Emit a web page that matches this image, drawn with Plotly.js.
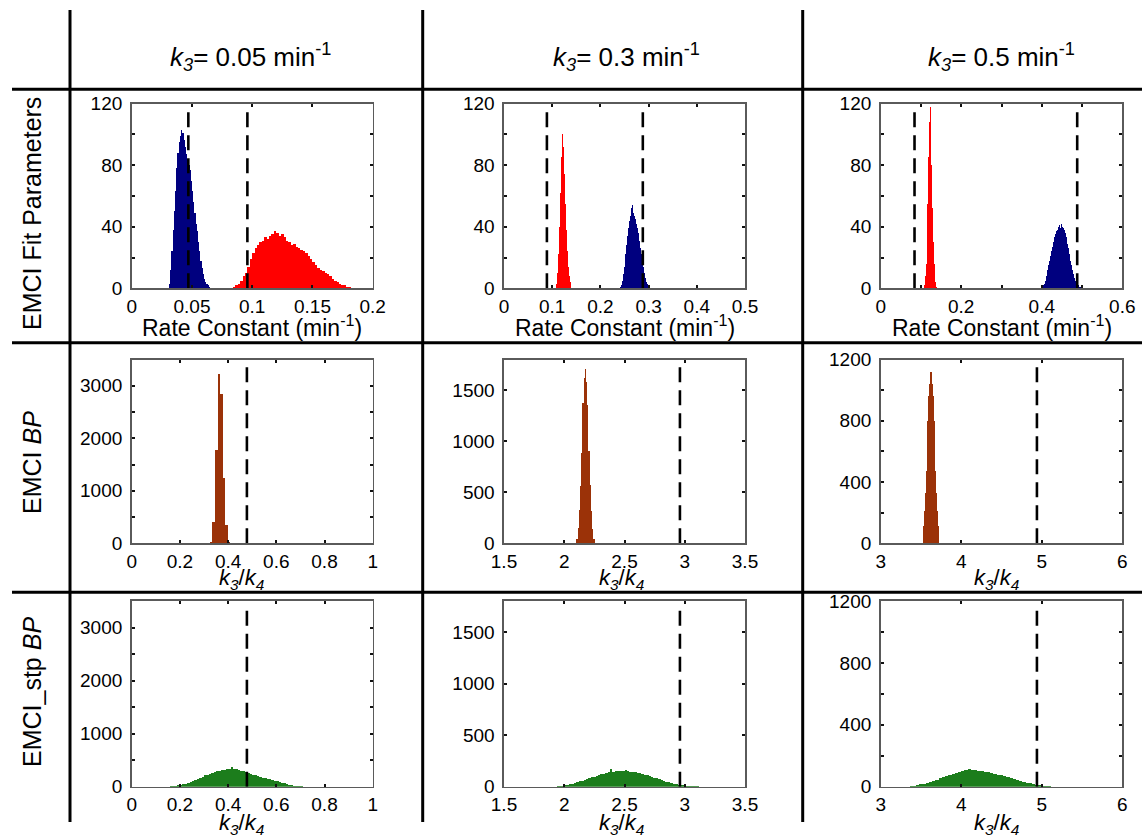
<!DOCTYPE html>
<html>
<head>
<meta charset="utf-8">
<script src="https://cdn.plot.ly/plotly-3.0.1.min.js"></script>
<style>html,body{margin:0;padding:0;background:#fff;}#chart{width:1142px;height:840px;}</style>
</head>
<body>
<div id="chart"></div>
<script>
// ---------------- DATA ----------------
const colHeaders = ["0.05", "0.3", "0.5"];
const rowLabels = ["EMCI Fit Parameters", "EMCI <i>BP</i>", "EMCI_stp <i>BP</i>"];

// Row 1, col 1 (k3 = 0.05)
const r1c1BlueStart = 0.031, r1c1BlueWidth = 0.001;
const r1c1BlueCounts = [3,12,24,38,50,63,78,88,95,99,103,101,96,92,87,84,80,77,70,63,56,49,42,37,30,24,18,13,9,6,4,3,2,1];
const r1c1RedStart = 0.084, r1c1RedWidth = 0.002;
const r1c1RedCounts = [1,2,3,5,8,10,14,19,23,26,28,30,31,33,32,34,35,37,36,34,35,33,31,30,28,29,27,26,25,24,23,21,19,17,15,13,12,11,10,9,8,6,5,4,3,2,2,1,1];
const r1c1Lines = [0.047, 0.096];

// Row 1, col 2 (k3 = 0.3)
const r1c2RedStart = 0.108, r1c2RedWidth = 0.002;
const r1c2RedCounts = [3,10,22,40,62,85,100,92,74,55,38,24,14,8,4,2];
const r1c2BlueStart = 0.240, r1c2BlueWidth = 0.002;
const r1c2BlueCounts = [1,2,5,9,14,18,22,28,34,39,44,47,52,54,49,47,45,42,39,36,31,26,22,18,14,10,7,4,3,2,1];
const r1c2Lines = [0.089, 0.288];

// Row 1, col 3 (k3 = 0.5)
const r1c3RedStart = 0.108, r1c3RedWidth = 0.002;
const r1c3RedCounts = [2,8,16,30,55,85,108,118,105,80,52,30,16,8,4,1];
const r1c3BlueStart = 0.3975, r1c3BlueWidth = 0.0025;
const r1c3BlueCounts = [1,1,2,3,5,8,12,15,18,21,24,27,30,33,35,37,38,40,41,39,42,40,39,38,36,33,29,26,22,18,15,12,9,7,5,4,3,2,1,1];
const r1c3Lines = [0.084, 0.488];

// Row 2: EMCI BP (k3/k4)
const r2c1Start = 0.3245, r2c1Width = 0.0105;
const r2c1Counts = [30,410,1770,3220,2840,1250,340,30];
const r2c1Line = 0.478;
const r2c2Start = 2.101, r2c2Width = 0.01;
const r2c2Counts = [40,150,330,560,880,1370,1620,1710,1580,1350,900,570,320,140,40];
const r2c2Line = 2.96;
const r2c3Start = 3.52, r2c3Width = 0.01;
const r2c3Counts = [35,110,210,330,470,640,800,960,1040,1120,1190,1120,1040,960,800,640,470,330,210,110,35];
const r2c3Line = 4.94;

// Row 3: EMCI_stp BP (k3/k4)
const r3c1Start = 0.15, r3c1Width = 0.01;
const r3c1Counts = [3,6,10,16,24,34,46,60,76,94,112,132,152,172,192,212,230,248,262,276,288,300,310,318,326,332,362,336,330,320,305,290,270,255,240,226,212,198,184,170,158,146,136,124,112,100,88,76,64,52,40,30,21,14,8,4,1];
const r3c1Line = 0.478;
const r3c2Start = 1.94, r3c2Width = 0.02;
const r3c2Counts = [2,5,9,14,19,25,31,37,44,51,58,66,74,82,90,98,106,113,120,126,132,138,176,146,148,150,152,150,166,148,146,143,139,135,130,124,118,111,104,96,88,80,72,64,56,49,42,36,30,25,20,16,13,10,8,6,4,3,2,1];
const r3c2Line = 2.96;
const r3c3Start = 3.32, r3c3Width = 0.04;
const r3c3Counts = [1,3,6,10,15,20,26,32,39,46,54,61,69,76,83,89,95,101,106,112,108,110,103,100,96,92,87,82,78,73,67,61,55,49,43,38,32,26,21,16,12,8,5,3,2,1,1];
const r3c3Line = 4.94;

// ---------------- STYLE / LAYOUT ----------------
const W = 1142, H = 840;
const FONT = 'Liberation Sans, Arial, Helvetica, sans-serif';
const BLUE = '#00007f', RED = '#ff0000', BROWN = '#9b3208', GREEN = '#1c7d1c';

const colPx = [[131.7, 372.7], [504, 745], [880.7, 1122.3]];
const rowPx = [[103.5, 288.3], [359.5, 543.3], [601, 786.7]];

function px2x(p) { return p / W; }
function px2y(p) { return 1 - p / H; }

function centers(start, width, counts) {
  return counts.map((_, i) => start + width * (i + 0.5));
}

const traces = [];
function hist(ax, start, width, counts, color) {
  traces.push({
    type: 'bar', xaxis: 'x' + ax, yaxis: 'y' + ax,
    x: centers(start, width, counts), y: counts, width: width,
    marker: { color: color, line: { width: 0 } },
    hoverinfo: 'x+y', showlegend: false
  });
}
function vline(ax, v, top) {
  traces.push({
    type: 'scatter', mode: 'lines', xaxis: 'x' + ax, yaxis: 'y' + ax,
    x: [v, v], y: [0, top],
    line: { color: '#000', width: 2.6, dash: '15px,8px' },
    hoverinfo: 'skip', showlegend: false
  });
}

// panel index: ax = row*3 + col + 1
hist(1, r1c1BlueStart, r1c1BlueWidth, r1c1BlueCounts, BLUE);
hist(1, r1c1RedStart, r1c1RedWidth, r1c1RedCounts, RED);
r1c1Lines.forEach(v => vline(1, v, 117));
hist(2, r1c2RedStart, r1c2RedWidth, r1c2RedCounts, RED);
hist(2, r1c2BlueStart, r1c2BlueWidth, r1c2BlueCounts, BLUE);
r1c2Lines.forEach(v => vline(2, v, 116));
hist(3, r1c3RedStart, r1c3RedWidth, r1c3RedCounts, RED);
hist(3, r1c3BlueStart, r1c3BlueWidth, r1c3BlueCounts, BLUE);
r1c3Lines.forEach(v => vline(3, v, 116));

hist(4, r2c1Start, r2c1Width, r2c1Counts, BROWN); vline(4, r2c1Line, 3400);
hist(5, r2c2Start, r2c2Width, r2c2Counts, BROWN); vline(5, r2c2Line, 1770);
hist(6, r2c3Start, r2c3Width, r2c3Counts, BROWN); vline(6, r2c3Line, 1170);

hist(7, r3c1Start, r3c1Width, r3c1Counts, GREEN); vline(7, r3c1Line, 3400);
hist(8, r3c2Start, r3c2Width, r3c2Counts, GREEN); vline(8, r3c2Line, 1720);
hist(9, r3c3Start, r3c3Width, r3c3Counts, GREEN); vline(9, r3c3Line, 1150);

const xSpecs = [
  { range: [0, 0.2], dtick: 0.05 }, { range: [0, 0.5], dtick: 0.1 }, { range: [0, 0.6], dtick: 0.2, minor: 0.1 },
  { range: [0, 1], dtick: 0.2 }, { range: [1.5, 3.5], dtick: 0.5 }, { range: [3, 6], dtick: 1 },
  { range: [0, 1], dtick: 0.2 }, { range: [1.5, 3.5], dtick: 0.5 }, { range: [3, 6], dtick: 1 }
];
const ySpecs = [
  { range: [0, 120], dtick: 40, minor: 20 }, { range: [0, 120], dtick: 40, minor: 20 }, { range: [0, 120], dtick: 40, minor: 20 },
  { range: [0, 3500], dtick: 1000, minor: 500 }, { range: [0, 1800], dtick: 500 }, { range: [0, 1200], dtick: 400, minor: 200 },
  { range: [0, 3500], dtick: 1000, minor: 500 }, { range: [0, 1800], dtick: 500 }, { range: [0, 1200], dtick: 400, minor: 200 }
];

const layout = {
  width: W, height: H,
  margin: { l: 0, r: 0, t: 0, b: 0 },
  paper_bgcolor: '#fff', plot_bgcolor: '#fff',
  barmode: 'overlay', bargap: 0,
  font: { family: FONT, size: 19, color: '#000' },
  showlegend: false,
  shapes: [], annotations: []
};

function axisBase(spec) {
  const a = {
    range: spec.range, dtick: spec.dtick, tick0: spec.range[0],
    showgrid: false, zeroline: false,
    showline: true, linecolor: '#5a5a5a', linewidth: 1.6, mirror: 'ticks',
    ticks: 'inside', ticklen: 3, tickwidth: 2, tickcolor: '#111',
    tickfont: { family: FONT, size: 19, color: '#000' },
    fixedrange: true
  };
  if (spec.minor) a.minor = { dtick: spec.minor, ticks: 'inside', ticklen: 3, tickwidth: 2, tickcolor: '#111', showgrid: false };
  return a;
}

for (let r = 0; r < 3; r++) {
  for (let c = 0; c < 3; c++) {
    const i = r * 3 + c + 1;
    const xa = axisBase(xSpecs[i - 1]);
    xa.domain = [px2x(colPx[c][0]), px2x(colPx[c][1])];
    xa.anchor = 'y' + i;
    xa.ticklabelstandoff = 0;
    const ya = axisBase(ySpecs[i - 1]);
    ya.domain = [px2y(rowPx[r][1]), px2y(rowPx[r][0])];
    ya.anchor = 'x' + i;
    ya.ticklabelstandoff = 4;
    layout['xaxis' + (i === 1 ? '' : i)] = xa;
    layout['yaxis' + (i === 1 ? '' : i)] = ya;
  }
}

// table lines
const lineStyle = { color: '#000', width: 3 };
[70, 422.7, 802.7].forEach(x => layout.shapes.push({
  type: 'line', xref: 'paper', yref: 'paper', x0: px2x(x), x1: px2x(x), y0: px2y(10), y1: px2y(822), line: lineStyle
}));
[89.3, 342.7, 592.3].forEach(y => layout.shapes.push({
  type: 'line', xref: 'paper', yref: 'paper', x0: px2x(12), x1: 1, y0: px2y(y), y1: px2y(y), line: lineStyle
}));

// column headers
const headerX = [250, 626.7, 1001.7];
colHeaders.forEach((v, c) => layout.annotations.push({
  xref: 'paper', yref: 'paper', x: px2x(headerX[c]), y: px2y(57), xanchor: 'center', yanchor: 'middle',
  text: '<i>k</i><sub><i>3</i></sub>= ' + v + ' min<sup>-1</sup>', showarrow: false,
  font: { family: FONT, size: 26, color: '#000' }
}));

// row labels
const rowLabelY = [214, 463, 692];
rowLabels.forEach((t, r) => layout.annotations.push({
  xref: 'paper', yref: 'paper', x: px2x(32), y: px2y(rowLabelY[r]), xanchor: 'center', yanchor: 'middle',
  text: t, textangle: -90, showarrow: false,
  font: { family: FONT, size: 25, color: '#000' }
}));

// axis titles
const rateTitleX = [252.2, 624.5, 1001.5];
rateTitleX.forEach(x => layout.annotations.push({
  xref: 'paper', yref: 'paper', x: px2x(x), y: px2y(326), xanchor: 'center', yanchor: 'middle',
  text: 'Rate Constant (min<sup>-1</sup>)', showarrow: false,
  font: { family: FONT, size: 23, color: '#000' }
}));
const ratioTitleX = [241, 621, 996];
[579, 824].forEach(y => ratioTitleX.forEach(x => layout.annotations.push({
  xref: 'paper', yref: 'paper', x: px2x(x), y: px2y(y), xanchor: 'center', yanchor: 'middle',
  text: '<i>k</i><sub><i>3</i></sub>/<i>k</i><sub><i>4</i></sub>', showarrow: false,
  font: { family: FONT, size: 22, color: '#000' }
})));

Plotly.newPlot('chart', traces, layout, { staticPlot: true, displayModeBar: false });
</script>
</body>
</html>
